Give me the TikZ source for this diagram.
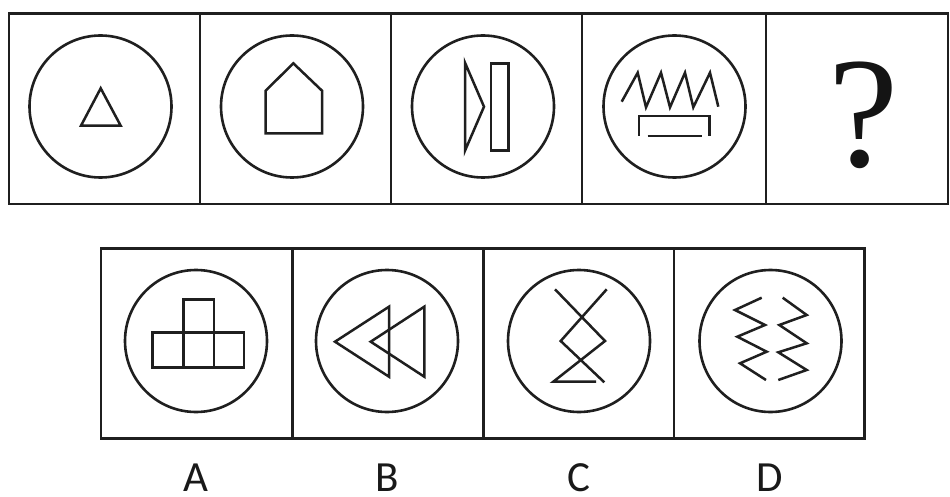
\documentclass[tikz,border=0pt]{standalone}
\usepackage{fontspec}
\newfontfamily\labelfont{Carlito}
\newfontfamily\qfont{Liberation Serif}
\begin{document}
\begin{tikzpicture}[x=1pt,y=-1pt,
  frame/.style={line width=2.8pt,draw=black!88,line join=miter},
  ring/.style={line width=2.6pt,draw=black!88},
  glyph/.style={line width=2.5pt,draw=black!88,line join=miter,line cap=butt},
  optlabel/.style={font=\labelfont\fontsize{43}{43}\selectfont,text=black!90,anchor=base,inner sep=0pt}]
\useasboundingbox (0,0) rectangle (950,497);
\fill[white] (0,0) rectangle (950,497);
% ---------- top row frame ----------
\draw[frame] (9,13.5) rectangle (948,204);
\foreach \x in {200,391,582,766} \draw[frame] (\x,13.5) -- (\x,204);
% ---------- bottom row frame ----------
\draw[frame] (101,248.3) rectangle (864.3,438.3);
\foreach \x in {292.3,483.3,674} \draw[frame] (\x,248.3) -- (\x,438.3);
% ---------- circles ----------
\foreach \cx/\cy in {100.5/106.5,292/106.5,483/106.5,674.5/106.5,196/341,387/341,579/341,770.5/341}
  \draw[ring] (\cx,\cy) circle[radius=71];
% ---------- figure 1: triangle ----------
\draw[glyph] (100.7,88.3) -- (120.7,125.7) -- (81,125.7) -- cycle;
% ---------- figure 2: house ----------
\draw[glyph] (293.3,63.3) -- (322,90.7) -- (322,133.3) -- (265.7,133.3) -- (265.7,90.7) -- cycle;
% ---------- figure 3: play/pause ----------
\draw[glyph] (465,62.7) -- (484,106.7) -- (465,150.7) -- cycle;
\draw[glyph] (491,63.3) rectangle (508.3,150.7);
% ---------- figure 4: zigzag + bracket ----------
\draw[glyph] (621.7,101.7) -- (637.7,72.7) -- (646,107.3) -- (661,72.7) -- (670,107.3) -- (685,72.7) -- (693.3,107.3) -- (710,72.7) -- (718.3,106.7);
\draw[glyph] (639,136) -- (639,116) -- (709.3,116) -- (709.3,136);
\draw[glyph] (647.7,136) -- (701.7,136);
% ---------- question mark ----------
\node[inner sep=0pt,anchor=base,font=\qfont\fontsize{158}{158}\selectfont,text=black!92] (qm) at (864,166.7) {?};
% ---------- option A: blocks ----------
\draw[glyph] (183.3,299.3) rectangle (214,332.7);
\draw[glyph] (152.3,332.7) rectangle (244,367.3);
\draw[glyph] (183.3,332.7) -- (183.3,367.3);
\draw[glyph] (214,332.7) -- (214,367.3);
% ---------- option B: rewind ----------
\draw[glyph] (335,341.7) -- (389,306.7) -- (389,376.7) -- cycle;
\draw[glyph] (370.7,341.7) -- (424.3,306.7) -- (424.3,376.7) -- cycle;
% ---------- option C: crossed lines ----------
\draw[glyph] (555,289.3) -- (605,341) -- (553.3,381.7) -- (596,381.7);
\draw[glyph] (606.7,289.3) -- (560.7,341) -- (604.3,382.3);
% ---------- option D: two zigzags ----------
\draw[glyph] (761.7,297.7) -- (735,310) -- (765,325) -- (737.3,336.7) -- (766.7,351.7) -- (740,363.3) -- (766,380);
\draw[glyph] (782.7,297.7) -- (806.7,315) -- (779.3,325) -- (806.7,343.3) -- (778.3,352.3) -- (806.7,370) -- (778.3,380);
% ---------- labels ----------
\node[optlabel] (la) at (196,491) {A};
\node[optlabel] (lb) at (387,491) {B};
\node[optlabel] (lc) at (579,491) {C};
\node[optlabel] (ld) at (770,491) {D};
\end{tikzpicture}
\end{document}
